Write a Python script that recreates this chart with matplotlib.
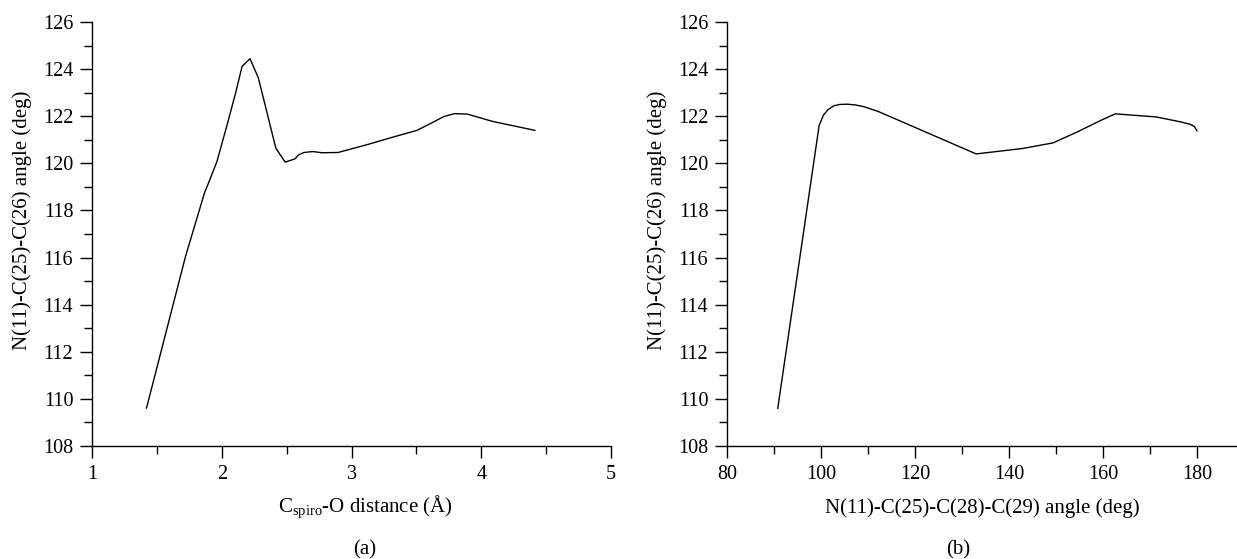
import matplotlib
matplotlib.use("Agg")
import matplotlib.pyplot as plt
from matplotlib.ticker import MultipleLocator

plt.rcParams['font.family'] = ['Liberation Serif', 'DejaVu Serif']
plt.rcParams['mathtext.fontset'] = 'custom'
plt.rcParams['mathtext.rm'] = 'Liberation Serif'
plt.rcParams['mathtext.it'] = 'Liberation Serif'

# (a) angle vs C_spiro-O distance
dist = [1.42, 1.72, 1.866, 1.913, 1.963, 2.038, 2.107, 2.157, 2.218, 2.282,
        2.343, 2.417, 2.489, 2.564, 2.592, 2.633, 2.702, 2.772, 2.896, 3.118,
        3.311, 3.505, 3.616, 3.713, 3.796, 3.893, 4.087, 4.413]
angle_a = [109.61, 116.03, 118.73, 119.37, 120.08, 121.57, 122.99, 124.12, 124.44, 123.63,
           122.28, 120.64, 120.05, 120.19, 120.36, 120.46, 120.50, 120.45, 120.46, 120.79,
           121.10, 121.40, 121.71, 121.99, 122.11, 122.09, 121.78, 121.40]

# (b) angle vs N(11)-C(25)-C(28)-C(29) dihedral
dihedral = [90.8, 95.35, 99.6, 100.5, 101.5, 102.7, 104.0, 105.6, 107.3, 109.2,
            112.2, 133.0, 142.9, 149.4, 154.6, 159.6, 162.6, 171.3, 176.5, 178.5,
            179.4, 180.0]
angle_b = [109.60, 115.8, 121.6, 122.04, 122.28, 122.44, 122.50, 122.51, 122.48, 122.40,
           122.20, 120.40, 120.63, 120.87, 121.34, 121.83, 122.10, 121.97, 121.76, 121.66,
           121.57, 121.38]

ylabel = 'N(11)-C(25)-C(26) angle (deg)'
W, H = 1237, 559

fig = plt.figure(figsize=(12.37, 5.59), dpi=100)
ax1 = fig.add_axes([92/W, 113/H, 519/W, 424/H])
ax2 = fig.add_axes([727/W, 113/H, 517/W, 424/H])

ax1.plot(dist, angle_a, color='black', lw=1.0)
ax2.plot(dihedral, angle_b, color='black', lw=1.0)

ax1.set_xlim(1, 5)
ax2.set_xlim(80, 190)
ax1.xaxis.set_major_locator(MultipleLocator(1))
ax1.xaxis.set_minor_locator(MultipleLocator(0.5))
ax2.xaxis.set_minor_locator(MultipleLocator(10))
ax2.set_xticks([80, 100, 120, 140, 160, 180])

for ax, axw in ((ax1, 519), (ax2, 517)):
    ax.set_ylim(108, 126)
    ax.yaxis.set_major_locator(MultipleLocator(2))
    ax.yaxis.set_minor_locator(MultipleLocator(1))
    ax.spines['top'].set_visible(False)
    ax.spines['right'].set_visible(False)
    for s in ('left', 'bottom'):
        ax.spines[s].set_linewidth(1.0)
    ax.tick_params(which='major', direction='out', length=8.5, width=1.0,
                   labelsize=14.5, pad=5)
    ax.tick_params(which='minor', direction='out', length=5.5, width=1.0)
    ax.set_ylabel(ylabel, fontsize=15)
    ax.yaxis.label.set_va('center')
    ax.yaxis.set_label_coords(-70 / axw, (446 - 220) / 424)

ax1.set_xlabel(r'C$_{\rm spiro}$-O distance (Å)', fontsize=15, va='center')
ax2.set_xlabel('N(11)-C(25)-C(28)-C(29) angle (deg)', fontsize=15, va='center')
ax1.xaxis.set_label_coords((365 - 92) / 519, -(507 - 446) / 424)
ax2.xaxis.set_label_coords((982 - 727) / 517, -(508 - 446) / 424)

fig.text(365/W, 1 - 550/H, '(a)', ha='center', va='center', fontsize=15)
fig.text(958/W, 1 - 550/H, '(b)', ha='center', va='center', fontsize=15)

fig.savefig('out.png', dpi=100)
